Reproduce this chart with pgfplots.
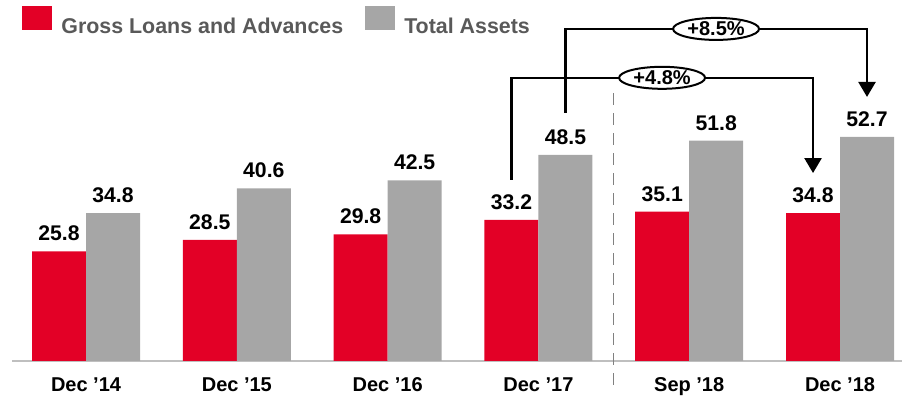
\documentclass[border=0pt]{standalone}
\usepackage{fontspec}
\setmainfont{Liberation Sans}
\usepackage{pgfplots}
\pgfplotsset{compat=1.18}
\usetikzlibrary{arrows.meta,shapes.geometric}
\definecolor{barred}{HTML}{E30026}
\definecolor{bargray}{HTML}{A6A6A6}
\definecolor{legtext}{HTML}{595959}
\definecolor{axgray}{HTML}{BFBFBF}
\definecolor{dashgray}{HTML}{808080}
\begin{document}
\begin{tikzpicture}
\begin{axis}[
  scale only axis,
  width=445pt, height=180.5pt,
  xmin=-0.491, xmax=5.411,
  ymin=0, ymax=84.9,
  ybar=0pt, bar width=27pt,
  axis x line=bottom,
  axis y line=none,
  x axis line style={draw=axgray, line width=1pt, -},
  xtick={0,1,2,3,4,5},
  xticklabels={Dec ’14,Dec ’15,Dec ’16,Dec ’17,Sep ’18,Dec ’18},
  major tick length=0pt,
  xticklabel style={font=\fontsize{10}{12}\selectfont\bfseries, anchor=north, inner sep=0pt, yshift=-8pt},
  clip=false,
  nodes near coords={\pgfmathprintnumber[fixed,fixed zerofill,precision=1,assume math mode=true]{\pgfplotspointmeta}},
  every node near coord/.append style={font=\fontsize{10.6}{12}\selectfont\bfseries, anchor=south, inner sep=0pt, yshift=5pt, text=black},
  legend style={at={(axis description cs:0,1)}, anchor=north west, xshift=2pt, yshift=-1pt, draw=none, fill=none,
    legend columns=-1, font=\fontsize{10.7}{12}\selectfont\bfseries, text=legtext,
    /tikz/every odd column/.append style={column sep=2.5pt},
    /tikz/every even column/.append style={column sep=9pt}},
  legend image code/.code={\fill[#1] (0pt,-1.6pt) rectangle (15pt,10.4pt);},
]
\addplot[fill=barred, draw=none] coordinates {(0,25.8) (1,28.5) (2,29.8) (3,33.2) (4,35.1) (5,34.8)};
\addlegendentry{Gross Loans and Advances}
\addplot[fill=bargray, draw=none] coordinates {(0,34.8) (1,40.6) (2,42.5) (3,48.5) (4,51.8) (5,52.7)};
\addlegendentry{Total Assets}
% separator
\draw[dashgray, line width=0.6pt, dash pattern=on 6pt off 4pt] (axis cs:3.5,63) -- (axis cs:3.5,-6.8);
% +4.8% bracket
\draw[black, line width=1.2pt, -{Triangle[width=8.5pt,length=7.5pt]}]
  (axis cs:2.821,42.6) -- (axis cs:2.821,66.6) -- (axis cs:4.821,66.6) -- (axis cs:4.821,44.2);
\node[ellipse, draw=black, line width=1pt, fill=white, minimum width=43pt, minimum height=11pt, inner sep=0pt,
  font=\fontsize{10}{12}\selectfont\bfseries] at (axis cs:3.82,66.6) {+4.8\%};
% +8.5% bracket
\draw[black, line width=1.2pt, -{Triangle[width=8.5pt,length=7.5pt]}]
  (axis cs:3.179,58.4) -- (axis cs:3.179,78.1) -- (axis cs:5.179,78.1) -- (axis cs:5.179,62.1);
\node[ellipse, draw=black, line width=1pt, fill=white, minimum width=43pt, minimum height=11pt, inner sep=0pt,
  font=\fontsize{10}{12}\selectfont\bfseries] at (axis cs:4.178,78.1) {+8.5\%};
\end{axis}
\pgfresetboundingbox
\path[use as bounding box] (-6pt,-20pt) rectangle (445pt,180.5pt);
\end{tikzpicture}
\end{document}
